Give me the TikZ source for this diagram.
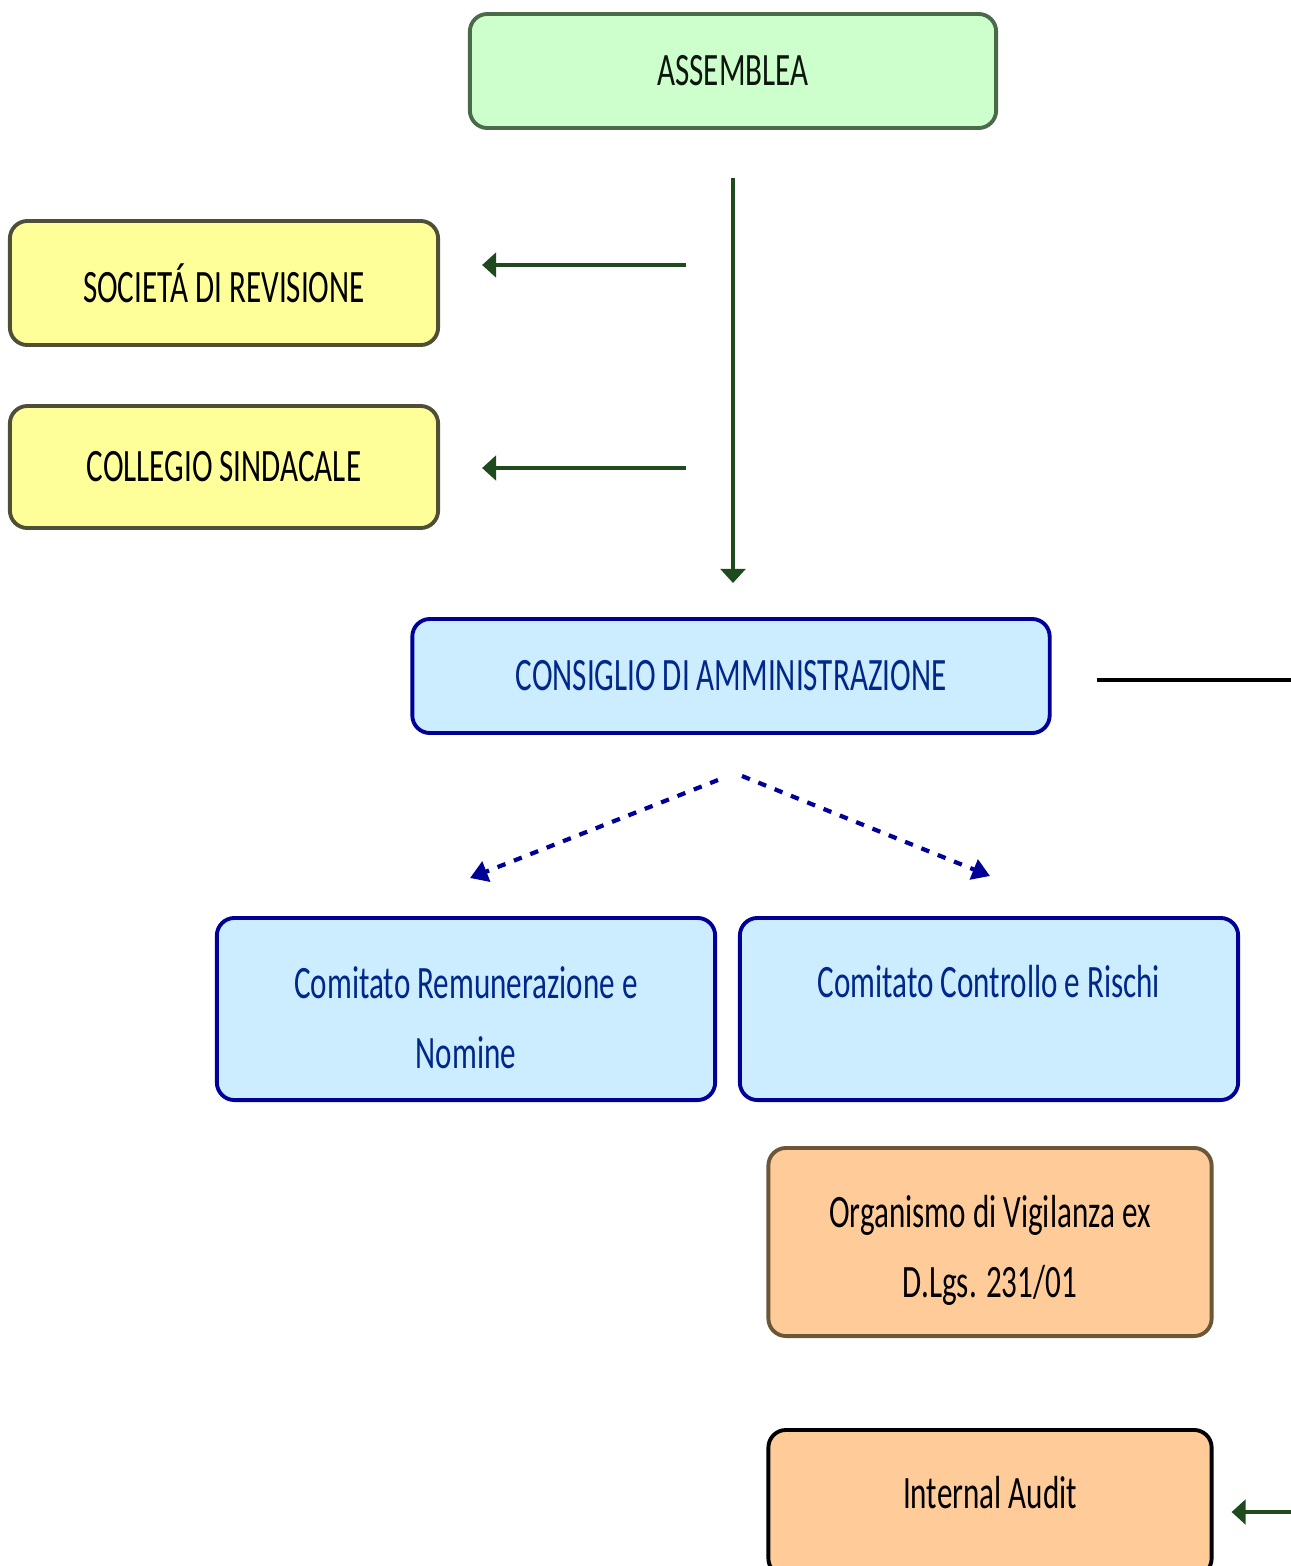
\documentclass[tikz,border=0pt]{standalone}
\usepackage{fontspec}
\newfontfamily\orgfont[FakeStretch=0.67]{Carlito}
\usepackage{tikz}
\usetikzlibrary{arrows.meta}
\definecolor{asmfill}{HTML}{CCFFCC}
\definecolor{asmline}{HTML}{4A6A4A}
\definecolor{ctlfill}{HTML}{FFFF99}
\definecolor{ctlline}{HTML}{4F4F38}
\definecolor{cdafill}{HTML}{CCECFF}
\definecolor{cdaline}{HTML}{000099}
\definecolor{cdatext}{HTML}{00288C}
\definecolor{odvfill}{HTML}{FFCC99}
\definecolor{odvline}{HTML}{6B5638}
\definecolor{arrgreen}{HTML}{1E4A1E}

\begin{document}
\begin{tikzpicture}[x=0.01cm,y=-0.01cm,
  orgbox/.style={draw,rounded corners=5pt,line width=1.1pt,align=center,inner sep=0pt,
    font=\orgfont\fontsize{13.2}{16}\selectfont},
  garrow/.style={arrgreen,line width=1pt,-{Triangle[length=4pt,width=7pt]}},
  darrow/.style={cdaline,line width=1.2pt,dash pattern=on 2.4pt off 2.6pt,-{Triangle[length=5pt,width=6pt]}}]
\useasboundingbox (0,0) rectangle (1291,1566);
% boxes
\node[orgbox,fill=asmfill,draw=asmline,text=black!80!asmline,minimum width=5.26cm,minimum height=1.14cm] (asm) at (733,71) {ASSEMBLEA};
\node[orgbox,fill=ctlfill,draw=ctlline,minimum width=4.28cm,minimum height=1.24cm] (soc) at (224,283) {SOCIETÁ DI REVISIONE};
\node[orgbox,fill=ctlfill,draw=ctlline,minimum width=4.28cm,minimum height=1.22cm] (col) at (224,467) {COLLEGIO SINDACALE};
\node[orgbox,fill=cdafill,draw=cdaline,text=cdatext,minimum width=6.37cm,minimum height=1.14cm] (cda) at (731,676) {CONSIGLIO DI AMMINISTRAZIONE};
\node[orgbox,fill=cdafill,draw=cdaline,text=cdatext,minimum width=4.98cm,minimum height=1.82cm] (crn) at (466,1009) {\rule{0pt}{14pt}Comitato Remunerazione e\\[4pt]Nomine};
\node[orgbox,fill=cdafill,draw=cdaline,text=cdatext,minimum width=4.98cm,minimum height=1.82cm] (ccr) at (989,1009) {Comitato Controllo e Rischi\\[0pt]\mbox{}};
\node[orgbox,fill=odvfill,draw=odvline,minimum width=4.43cm,minimum height=1.88cm] (odv) at (990,1242) {\rule{0pt}{14pt}Organismo di Vigilanza ex\\[4pt]D.Lgs. 231/01};
\node[orgbox,fill=odvfill,draw=black,minimum width=4.43cm,minimum height=1.46cm] (ia) at (990,1503) {Internal Audit\\[-10pt]\mbox{}};
% free ends
\coordinate (s1) at (686,265);
\coordinate (s2) at (686,468);
\coordinate (e1) at (1291,680);
\coordinate (e2) at (1291,1512);
\coordinate (d0) at (718,780);
\coordinate (d1) at (470,878);
\coordinate (d2) at (742,776);
\coordinate (d3) at (990,876);
% connectors
\draw[garrow,shorten <=0.48cm,shorten >=0.34cm] (asm.south) -- (asm.south |- cda.north);
\draw[garrow,shorten >=0.42cm] (s1) -- (soc.east |- s1);
\draw[garrow,shorten >=0.42cm] (s2) -- (col.east |- s2);
\draw[black,line width=1.2pt,shorten <=0.45cm] (cda.east |- e1) -- (e1);
\draw[garrow,shorten >=0.18cm] (e2) -- (ia.east |- e2);
\draw[darrow] (d0) -- (d1);
\draw[darrow] (d2) -- (d3);
\end{tikzpicture}
\end{document}
